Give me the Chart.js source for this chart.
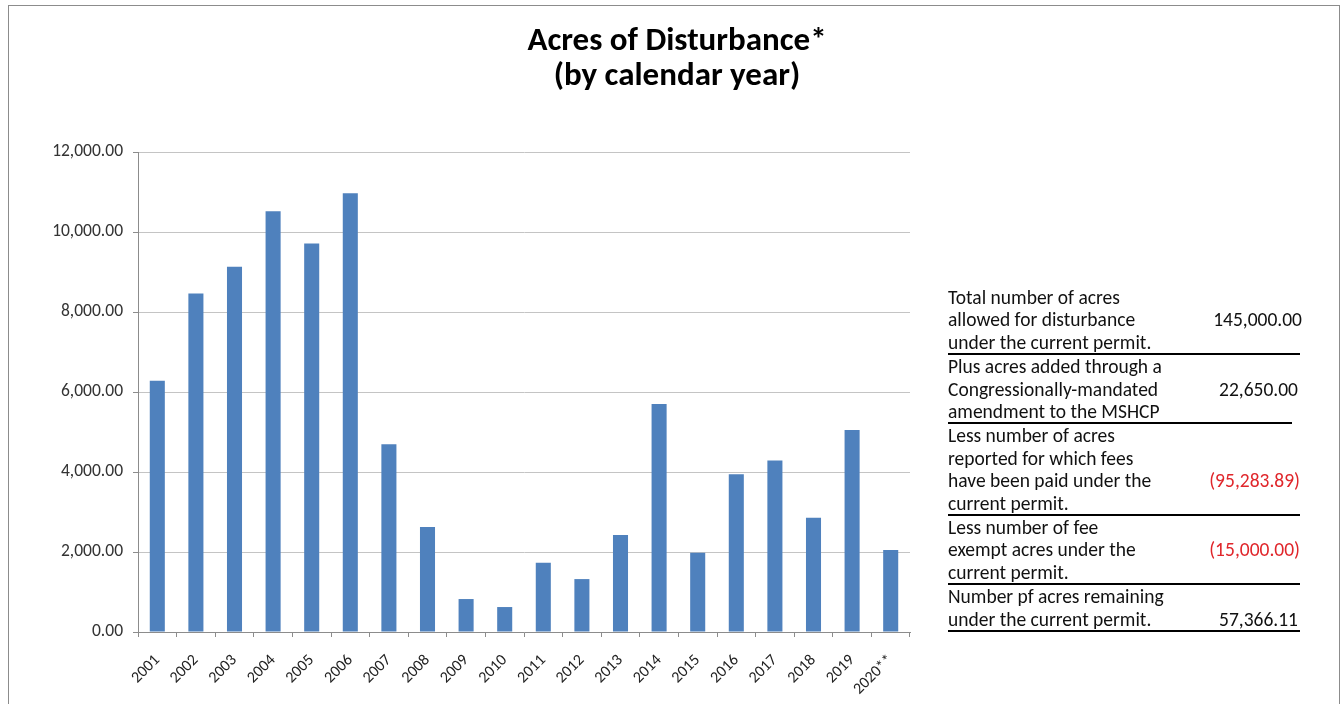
<!DOCTYPE html>
<html>
<head>
<meta charset="utf-8">
<script src="https://cdn.jsdelivr.net/npm/chart.js@4/dist/chart.umd.min.js"></script>
<style>
  html, body { margin:0; padding:0; background:#fff; }
  body { width:1343px; height:704px; position:relative; overflow:hidden; font-family: Carlito, Lato, "Open Sans", sans-serif; }
  #frame { position:absolute; left:8px; top:5px; width:1332px; height:720px; border:1px solid #8c8c8c; box-sizing:border-box; }
  #chart { position:absolute; left:0; top:0; }
  #title { position:absolute; left:377px; width:600px; top:22px; text-align:center; font-weight:bold; font-size:33px; line-height:35px; color:#000; }
  #table { position:absolute; left:948px; top:286px; width:352px; font-size:19.5px; line-height:22.4px; color:#111; }
  .row { position:relative; border-bottom:2px solid #000; white-space:nowrap; }
  .val { position:absolute; right:0; white-space:nowrap; }
  .neg { color:#e0262b; }
</style>
</head>
<body>
<div id="frame"></div>
<canvas id="chart" width="1343" height="704"></canvas>
<div id="title">Acres of Disturbance*<br>(by calendar year)</div>
<div id="table"></div>
<script>
const years = ["2001","2002","2003","2004","2005","2006","2007","2008","2009","2010","2011","2012","2013","2014","2015","2016","2017","2018","2019","2020**"];
const acres = [6280, 8465, 9130, 10520, 9715, 10970, 4695, 2622, 824, 624, 1730, 1323, 2422, 5700, 1980, 3945, 4285, 2854, 5051, 2047];
const yTicks = [0, 2000, 4000, 6000, 8000, 10000, 12000];

const tableLabels = [
  ["Total number of acres", "allowed for disturbance", "under the current permit."],
  ["Plus acres added through a", "Congressionally-mandated", "amendment to the MSHCP"],
  ["Less number of acres", "reported for which fees", "have been paid under the", "current permit."],
  ["Less number of fee", "exempt acres under the", "current permit."],
  ["Number pf acres remaining", "under the current permit."]
];
const tableValues = ["145,000.00", "22,650.00", "(95,283.89)", "(15,000.00)", "57,366.11"];
const valueLine = [1, 1, 2, 1, 1];
const negative = [false, false, true, true, false];
const rowWidths = [352, 344, 352, 352, 352];
const valueRight = [-2, -6, 0, 0, 2];

const tbl = document.getElementById('table');
tableLabels.forEach((lines, i) => {
  const r = document.createElement('div');
  r.className = 'row';
  r.style.width = rowWidths[i] + 'px';
  r.innerHTML = lines.map(l => '<div>' + l + '</div>').join('');
  const v = document.createElement('div');
  v.className = 'val' + (negative[i] ? ' neg' : '');
  v.style.top = (valueLine[i] * 22.4) + 'px';
  v.style.right = valueRight[i] + 'px';
  v.textContent = tableValues[i];
  r.appendChild(v);
  tbl.appendChild(r);
});

function fmt(v) {
  return v.toLocaleString('en-US', {minimumFractionDigits:2, maximumFractionDigits:2});
}

new Chart(document.getElementById('chart'), {
  type: 'bar',
  data: {
    labels: years,
    datasets: [{
      data: acres,
      backgroundColor: '#4f81bd',
      borderWidth: 0,
      barPercentage: 0.39,
      categoryPercentage: 1.0
    }]
  },
  options: {
    responsive: false,
    animation: false,
    devicePixelRatio: 1,
    layout: { padding: { top: 152, right: 433, left: 0, bottom: 0 } },
    plugins: { legend: { display: false }, title: { display: false }, tooltip: { enabled: false } },
    scales: {
      x: {
        offset: true,
        grid: { offset: true, drawOnChartArea: false, drawTicks: true, tickLength: 5, color: '#8c8c8c' },
        border: { color: '#8c8c8c', width: 1 },
        ticks: { minRotation: 45, maxRotation: 45, autoSkip: false, color: '#222', font: { family: 'Carlito, Lato, sans-serif', size: 16 }, padding: 14 },
        afterFit: s => { s.height = 72; }
      },
      y: {
        min: 0, max: 12000,
        afterBuildTicks: s => { s.ticks = yTicks.map(v => ({ value: v })); },
        grid: { color: '#c4c4c4', tickColor: '#8c8c8c', tickLength: 5, lineWidth: 1 },
        border: { color: '#8c8c8c', width: 1 },
        ticks: { callback: v => fmt(v), color: '#333', font: { family: 'Carlito, Lato, sans-serif', size: 17.5 }, padding: 10 },
        afterFit: s => { s.width = 138; }
      }
    }
  }
});
</script>
</body>
</html>
